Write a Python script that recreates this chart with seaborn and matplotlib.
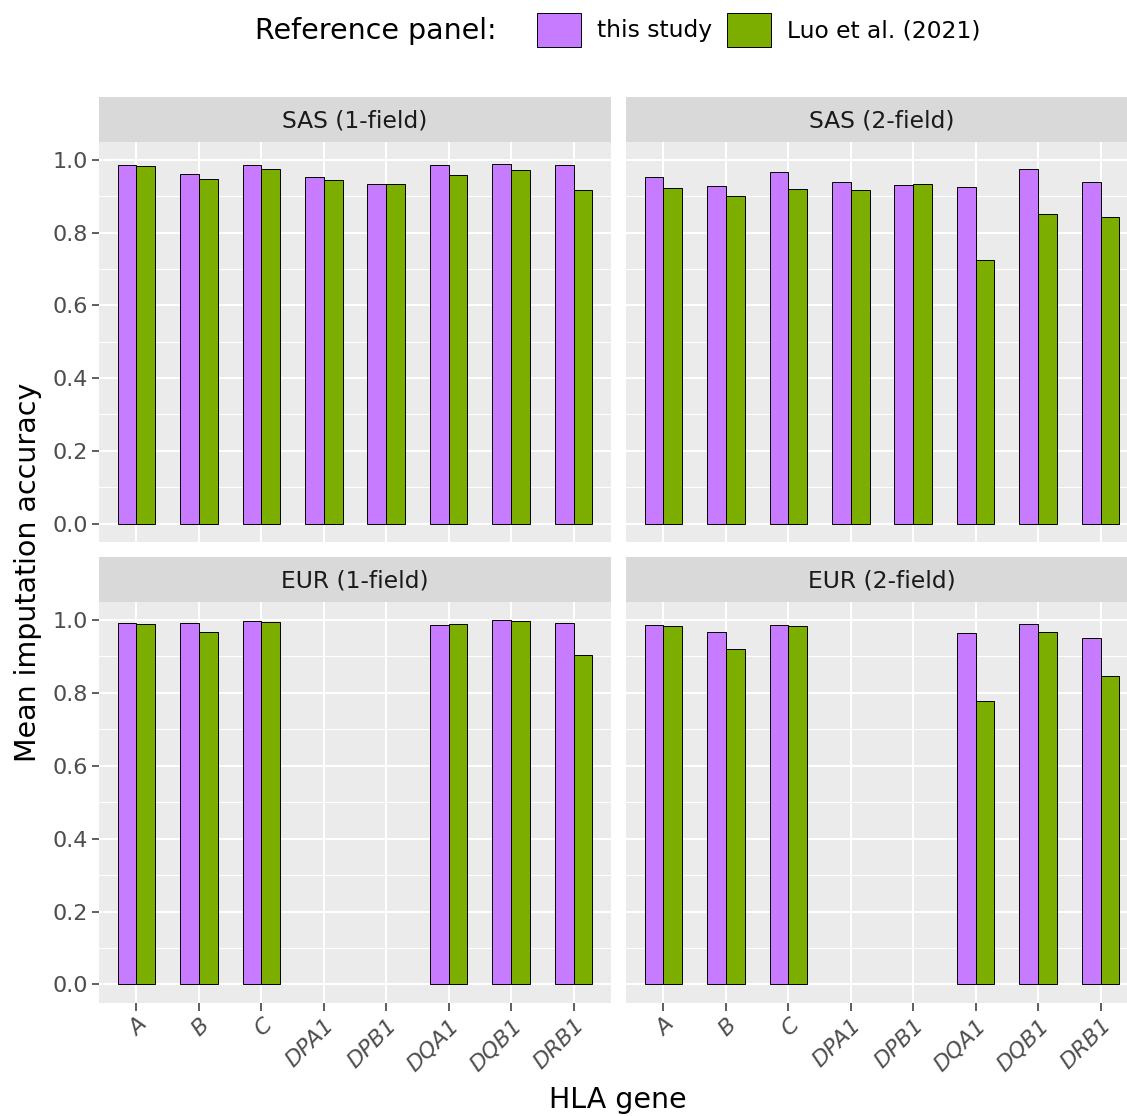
import numpy as np
import pandas as pd
import matplotlib
matplotlib.use("Agg")
import matplotlib.pyplot as plt
from matplotlib.patches import Rectangle, Patch
from matplotlib.ticker import FormatStrFormatter
import seaborn as sns

# HLA genes and reference panels
genes = ["A", "B", "C", "DPA1", "DPB1", "DQA1", "DQB1", "DRB1"]
panels = ["this study", "Luo et al. (2021)"]
colors = ["#C77CFF", "#7CAE00"]
facets = ["SAS (1-field)", "SAS (2-field)", "EUR (1-field)", "EUR (2-field)"]

nan = np.nan
sas1_this = [0.985, 0.962, 0.986, 0.954, 0.935, 0.985, 0.989, 0.986]
sas1_luo = [0.984, 0.947, 0.974, 0.944, 0.934, 0.959, 0.973, 0.918]
sas2_this = [0.954, 0.928, 0.966, 0.940, 0.932, 0.925, 0.974, 0.938]
sas2_luo = [0.924, 0.900, 0.921, 0.917, 0.933, 0.725, 0.852, 0.843]
eur1_this = [0.991, 0.991, 0.998, nan, nan, 0.987, 1.000, 0.992]
eur1_luo = [0.989, 0.968, 0.995, nan, nan, 0.990, 0.997, 0.903]
eur2_this = [0.985, 0.967, 0.985, nan, nan, 0.963, 0.990, 0.951]
eur2_luo = [0.983, 0.920, 0.983, nan, nan, 0.778, 0.966, 0.847]

series = {
    "SAS (1-field)": (sas1_this, sas1_luo),
    "SAS (2-field)": (sas2_this, sas2_luo),
    "EUR (1-field)": (eur1_this, eur1_luo),
    "EUR (2-field)": (eur2_this, eur2_luo),
}

rows = []
for facet, (this_vals, luo_vals) in series.items():
    for g, v1, v2 in zip(genes, this_vals, luo_vals):
        rows.append((facet, g, panels[0], v1))
        rows.append((facet, g, panels[1], v2))
df = pd.DataFrame(rows, columns=["facet", "gene", "panel", "acc"]).dropna()

plt.rcParams["font.family"] = ["DejaVu Sans"]

W, H = 1127, 1116
fig = plt.figure(figsize=(W / 100, H / 100), dpi=100)

left_cols = [99 / W, 626 / W]
col_w = 512 / W
rows_pos = [(1 - 541.7 / H, 400 / H), (1 - 1002.7 / H, 401 / H)]
strip_px = 44.5

tick_color = "#4D4D4D"
tick_size = 16
for i, facet in enumerate(facets):
    r, c = divmod(i, 2)
    b, h = rows_pos[r]
    ax = fig.add_axes([left_cols[c], b, col_w, h])
    ax.set_facecolor("#EBEBEB")
    for s in ax.spines.values():
        s.set_visible(False)

    sub = df[df["facet"] == facet]
    sns.barplot(data=sub, x="gene", y="acc", hue="panel", order=genes,
                hue_order=panels, palette=colors, width=0.6, saturation=1,
                edgecolor="black", linewidth=0.7, ax=ax, legend=False,
                errorbar=None)

    ax.set_xlim(-0.6, 7.6)
    ax.set_ylim(-0.05, 1.05)
    ax.set_yticks([0.0, 0.2, 0.4, 0.6, 0.8, 1.0])
    ax.set_yticks([0.1, 0.3, 0.5, 0.7, 0.9], minor=True)
    ax.yaxis.set_major_formatter(FormatStrFormatter("%.1f"))
    ax.set_axisbelow(True)
    ax.grid(which="major", color="white", lw=1.5)
    ax.grid(which="minor", axis="y", color="white", lw=0.75)
    ax.tick_params(which="minor", length=0)
    ax.tick_params(which="major", length=5, width=1.1, color="#333333",
                   labelsize=tick_size, labelcolor=tick_color, pad=3)
    ax.set_xlabel("")
    ax.set_ylabel("")

    if r == 0:
        ax.tick_params(axis="x", length=0, labelbottom=False)
    else:
        ax.tick_params(axis="x", length=6)
        ax.set_xticks(range(len(genes)))
        ax.set_xticklabels(genes, rotation=45, ha="right", va="top",
                           rotation_mode="anchor", fontstyle="italic",
                           fontsize=tick_size, color=tick_color)
    if c == 1:
        ax.tick_params(axis="y", length=0, labelleft=False)

    # facet strip
    sh = strip_px / (h * H)
    ax.add_patch(Rectangle((0, 1), 1, sh, transform=ax.transAxes,
                           facecolor="#D9D9D9", edgecolor="none",
                           clip_on=False))
    ax.text(0.5, 1 + sh / 2 - 0.003, facet, transform=ax.transAxes,
            ha="center", va="center", fontsize=16.8, color="#1A1A1A")

fig.text(28 / W, 1 - 572 / H, "Mean imputation accuracy", rotation=90,
         ha="center", va="center", fontsize=20.5)
fig.text(618 / W, 1 - 1100 / H, "HLA gene", ha="center", va="center",
         fontsize=20.5)

# legend across the top
fig.text(255 / W, 1 - 31 / H, "Reference panel:", ha="left", va="center",
         fontsize=20.5)
handles = [Patch(facecolor=col, edgecolor="black", linewidth=0.7)
           for col in colors]
fig.legend(handles, panels, loc="center left",
           bbox_to_anchor=(537 / W, 1 - 30 / H), ncol=2, frameon=False,
           fontsize=16.8, handlelength=1.88, handleheight=1.88,
           handletextpad=0.68, columnspacing=0.64, borderpad=0,
           borderaxespad=0)

fig.savefig("out.png", dpi=100)
